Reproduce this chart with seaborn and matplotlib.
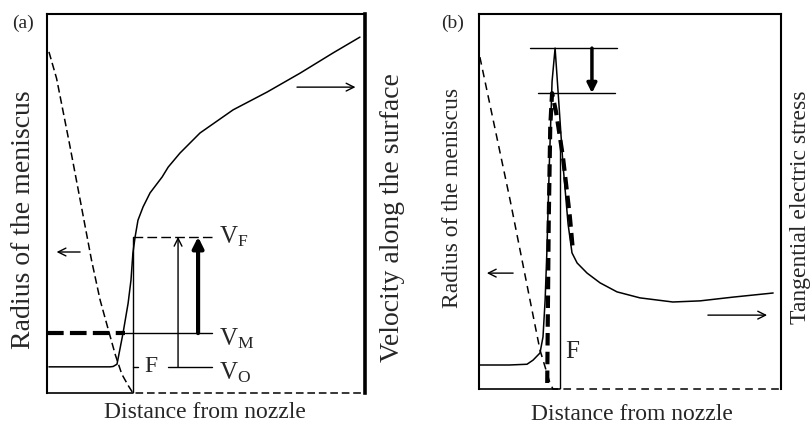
import matplotlib
matplotlib.use("Agg")
import matplotlib.pyplot as plt
import seaborn as sns

# ======================
# panel (a) : meniscus radius (dashed) + surface velocity (solid)
# ======================
a_radius_x = [0.6, 3, 7, 10.4, 14, 16.7, 19.5, 21.5, 23.5, 25.5, 27, 40, 60, 80, 100]
a_radius_y = [90, 83, 66, 51, 35, 24.5, 16, 10, 5, 2, 0, 0, 0, 0, 0]

a_vel_x = [0.6, 10, 19.8, 20.8, 22, 23.9, 25.5, 26.4, 27.0, 27.7, 28.6, 30.2, 32.4,
           36.2, 38.1, 41.8, 48.1, 58.5, 69.2, 79.6, 89.9, 98.4]
a_vel_y = [6.9, 6.9, 6.9, 7.0, 7.6, 15.8, 23.7, 29.8, 36.9, 41.2, 45.6, 49.1, 52.8,
           57.0, 59.6, 63.3, 68.6, 74.7, 79.4, 84.4, 89.7, 93.9]

# levels / positions of the annotations in panel (a)
a_f = 27.0
a_vo, a_vm, a_vf = 6.9, 15.8, 41.2
a_labels = ["V$_\\mathrm{F}$", "V$_\\mathrm{M}$", "V$_\\mathrm{O}$"]

# ======================
# panel (b) : meniscus radius (dashed) + tangential electric stress (solid)
# ======================
b_radius_x = [0.3, 5, 10.3, 16.9, 20.2, 23.5, 24.5, 40, 60, 80, 100]
b_radius_y = [88.5, 70.6, 50.4, 23.7, 10.4, 1.6, 0, 0, 0, 0, 0]

b_stress_x = [0.3, 10, 15.9, 17.9, 20.2, 21.2, 21.9, 22.5, 23.3, 24.2, 25.2, 26.3, 27.8,
              29.5, 30.8, 32.5, 35.8, 40.1, 45.7, 53.3, 64.2, 73.2, 84.1, 97.4]
b_stress_y = [6.4, 6.4, 6.6, 7.7, 9.6, 13.9, 23.7, 37, 60, 82, 90.9, 78, 60,
              44, 36.3, 33.6, 30.9, 28.3, 25.9, 24.3, 23.2, 23.5, 24.5, 25.6]

# reduced peak (thick dashed)
b_peak_x = [22.6, 22.8, 23.1, 23.6, 24.2, 25.5, 27.8, 30.1, 31.1]
b_peak_y = [1.6, 20, 45, 70, 78.9, 74, 61.9, 45.9, 37]

b_f = 26.8
b_top, b_low = 90.9, 78.9

sns.set_style("white")
plt.rcParams["font.family"] = ["Liberation Serif", "DejaVu Serif"]
plt.rcParams["mathtext.fontset"] = "custom"
plt.rcParams["mathtext.rm"] = "Liberation Serif"
plt.rcParams["mathtext.it"] = "Liberation Serif:italic"

fig = plt.figure(figsize=(8.11, 4.25), dpi=100)
ax1 = fig.add_axes([0.0580, 0.0753, 0.3921, 0.8918])
ax2 = fig.add_axes([0.5906, 0.0847, 0.3724, 0.8824])

for ax in (ax1, ax2):
    ax.set_xlim(0, 100)
    ax.set_ylim(0, 100)
    ax.set_xticks([])
    ax.set_yticks([])
    for s in ax.spines.values():
        s.set_color("black")
        s.set_linewidth(1.5)
    ax.spines["bottom"].set_visible(False)
ax1.spines["right"].set_linewidth(2.6)

k = dict(color="black", sort=False, estimator=None, clip_on=False)

# ---- panel (a) ----
sns.lineplot(x=a_radius_x, y=a_radius_y, ax=ax1, lw=1.1, linestyle=(0, (5, 2.5)), **k)
sns.lineplot(x=a_vel_x, y=a_vel_y, ax=ax1, lw=1.1, **k)
ax1.plot([0, a_f], [0, 0], color="black", lw=1.2, clip_on=False)

# thick dashed V_M up to the curve, then thin line
ax1.plot([0, 24.5], [a_vm, a_vm], color="black", lw=3, linestyle=(0, (4, 1.5)))
ax1.plot([24.5, 52], [a_vm, a_vm], color="black", lw=1)
ax1.plot([a_f, 52], [a_vf, a_vf], color="black", lw=1, linestyle=(0, (7, 3)))
ax1.plot([a_f, 28.6], [a_vo, a_vo], color="black", lw=1)
ax1.plot([38, 52], [a_vo, a_vo], color="black", lw=1)
ax1.plot([a_f, a_f], [0, a_vf], color="black", lw=1)
ax1.text(32.6, a_vo, "F", ha="center", va="center", fontsize=17)

ax1.annotate("", xy=(41.2, a_vf), xytext=(41.2, a_vo),
             arrowprops=dict(arrowstyle="->", lw=1, color="black",
                             shrinkA=0, shrinkB=0, mutation_scale=14))
ax1.annotate("", xy=(47.5, a_vf), xytext=(47.5, a_vm),
             arrowprops=dict(arrowstyle="-|>", lw=3, color="black",
                             shrinkA=0, shrinkB=0, mutation_scale=16))
for lvl, lab, dy in zip([a_vf, a_vm, a_vo], a_labels, [0, -1.5, -1.5]):
    ax1.text(54, lvl + dy, lab, ha="left", va="center", fontsize=18)

ax1.annotate("", xy=(3, 37.2), xytext=(10.4, 37.2),
             arrowprops=dict(arrowstyle="->", lw=1, color="black",
                             shrinkA=0, shrinkB=0, mutation_scale=14))
ax1.annotate("", xy=(97, 80.7), xytext=(78.6, 80.7),
             arrowprops=dict(arrowstyle="->", lw=1, color="black",
                             shrinkA=0, shrinkB=0, mutation_scale=14))

ax1.text(-0.075, 0.456, "Radius of the meniscus", transform=ax1.transAxes,
         rotation=90, ha="center", va="center", fontsize=20)
ax1.text(1.085, 0.462, "Velocity along the surface", transform=ax1.transAxes,
         rotation=90, ha="center", va="center", fontsize=20)
fig.text(205 / 811, 1 - 412 / 425, "Distance from nozzle", ha="center", va="center", fontsize=17)
fig.text(23 / 811, 1 - 23 / 425, "(a)", ha="center", va="center", fontsize=14)

# ---- panel (b) ----
sns.lineplot(x=b_radius_x, y=b_radius_y, ax=ax2, lw=1.1, linestyle=(0, (5, 3.5)), **k)
sns.lineplot(x=b_stress_x, y=b_stress_y, ax=ax2, lw=1.1, **k)
sns.lineplot(x=b_peak_x, y=b_peak_y, ax=ax2, lw=3, linestyle=(0, (3, 1.5)), **k)
ax2.plot([0, b_f], [0, 0], color="black", lw=1.2, clip_on=False)
ax2.plot([b_f, b_f], [0, 66], color="black", lw=1)
ax2.text(31, 10, "F", ha="center", va="center", fontsize=18)

ax2.plot([16.9, 45.7], [b_top, b_top], color="black", lw=1)
ax2.plot([19.5, 45], [b_low, b_low], color="black", lw=1)
ax2.annotate("", xy=(37.4, b_low), xytext=(37.4, b_top),
             arrowprops=dict(arrowstyle="-|>", lw=2.5, color="black",
                             shrinkA=0, shrinkB=0, mutation_scale=14))

ax2.annotate("", xy=(2.6, 30.9), xytext=(11.3, 30.9),
             arrowprops=dict(arrowstyle="->", lw=1, color="black",
                             shrinkA=0, shrinkB=0, mutation_scale=14))
ax2.annotate("", xy=(95.4, 19.7), xytext=(75.8, 19.7),
             arrowprops=dict(arrowstyle="->", lw=1, color="black",
                             shrinkA=0, shrinkB=0, mutation_scale=14))

ax2.text(-0.089, 0.509, "Radius of the meniscus", transform=ax2.transAxes,
         rotation=90, ha="center", va="center", fontsize=17)
ax2.text(1.066, 0.485, "Tangential electric stress", transform=ax2.transAxes,
         rotation=90, ha="center", va="center", fontsize=17)
fig.text(632 / 811, 1 - 415 / 425, "Distance from nozzle", ha="center", va="center", fontsize=17)
fig.text(453 / 811, 1 - 23 / 425, "(b)", ha="center", va="center", fontsize=14)

fig.savefig("out.png", dpi=100)
